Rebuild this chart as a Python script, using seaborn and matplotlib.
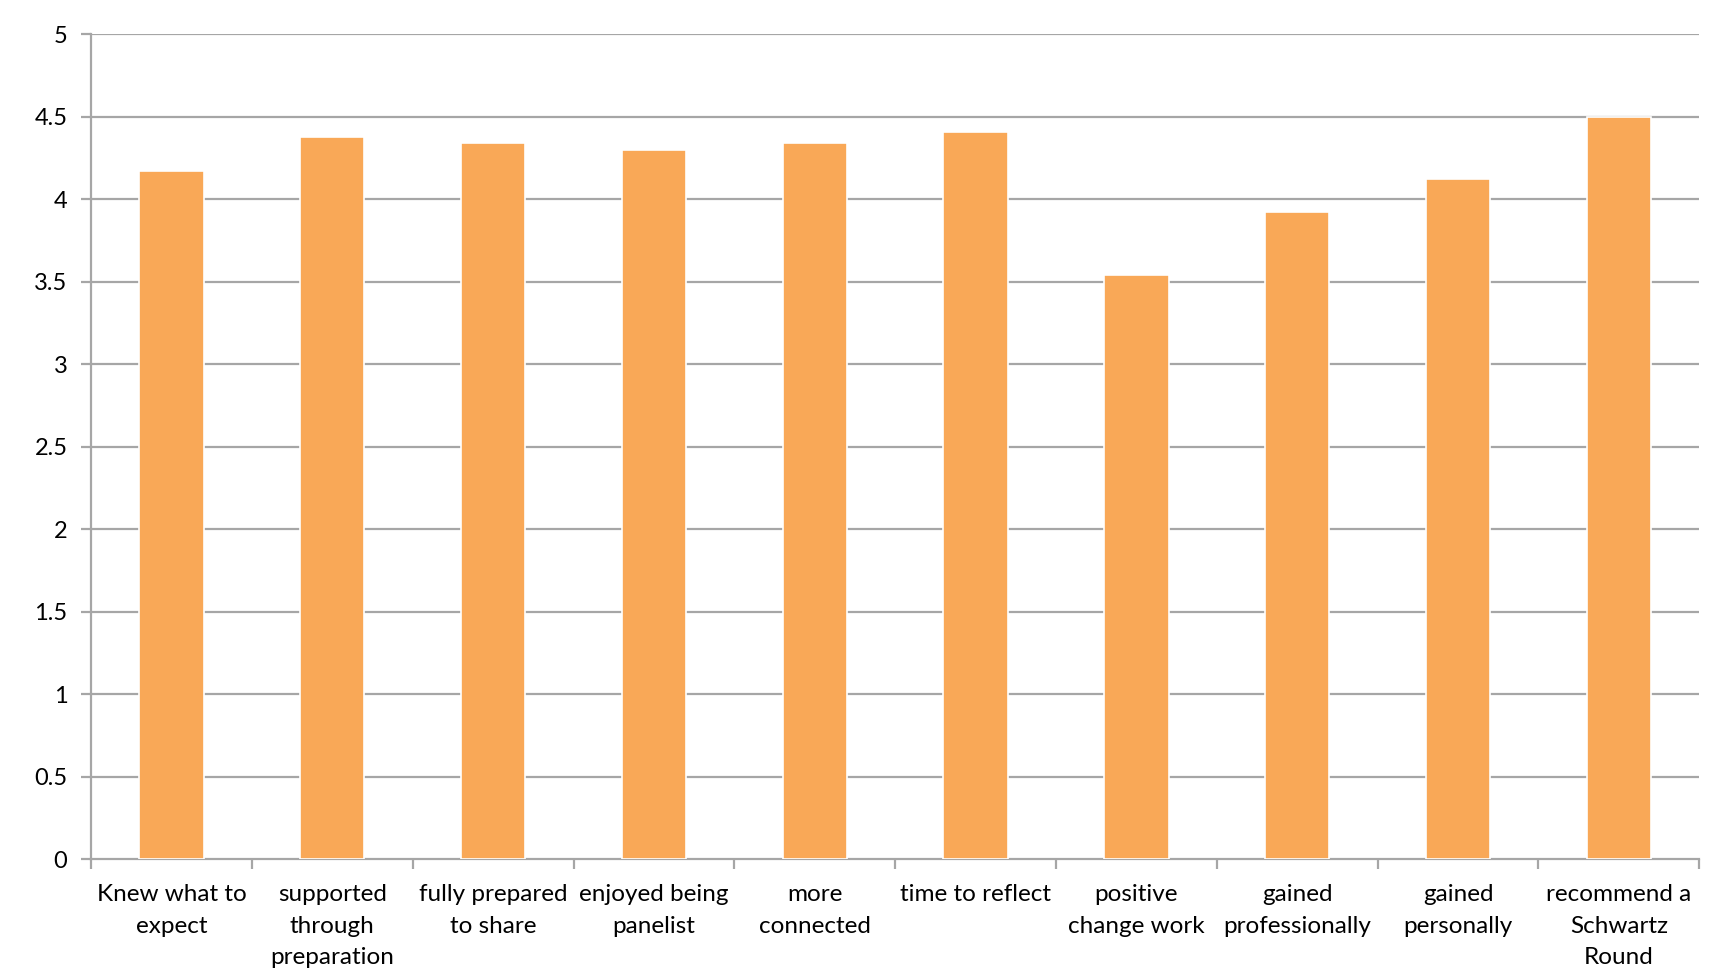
import matplotlib
matplotlib.use("Agg")
import matplotlib.pyplot as plt
from matplotlib.ticker import FixedLocator
import seaborn as sns
import pandas as pd

categories = ["Knew what to\nexpect", "supported\nthrough\npreparation", "fully prepared\nto share",
              "enjoyed being\npanelist", "more\nconnected", "time to reflect", "positive\nchange work",
              "gained\nprofessionally", "gained\npersonally", "recommend a\nSchwartz\nRound"]
values = [4.17, 4.38, 4.34, 4.30, 4.34, 4.41, 3.54, 3.92, 4.12, 4.50]
yticks = [0, 0.5, 1, 1.5, 2, 2.5, 3, 3.5, 4, 4.5, 5]
ytick_labels = ["0", "0.5", "1", "1.5", "2", "2.5", "3", "3.5", "4", "4.5", "5"]

sns.set_style("white")
plt.rcParams['font.family'] = ['Lato', 'DejaVu Sans']

df = pd.DataFrame({"cat": categories, "val": values})

fig = plt.figure(figsize=(17.34, 9.69), dpi=100)
ax = fig.add_axes([0.0525, 0.1135, 0.9275, 0.8511])

grid_c = "#A6A6A6"
for y in yticks[1:]:
    ax.axhline(y, color=grid_c, lw=1.6, zorder=0)

sns.barplot(data=df, x="cat", y="val", color="#F9A857", saturation=1, width=0.4,
            edgecolor="white", linewidth=1.2, ax=ax, zorder=3)

ax.set_xlim(-0.5, len(categories) - 0.5)
ax.set_ylim(0, 5)
ax.set_yticks(yticks)
ax.set_yticklabels(ytick_labels, fontsize=17, color="#000000")
ax.set_xlabel("")
ax.set_ylabel("")

ax.tick_params(axis="x", which="major", length=0, pad=18, labelsize=17.5, labelcolor="#000000")
ax.xaxis.set_minor_locator(FixedLocator([i - 0.5 for i in range(len(categories) + 1)]))
ax.tick_params(axis="x", which="minor", length=7, width=1.6, color=grid_c, direction="out", bottom=True)
ax.tick_params(axis="y", which="major", length=7, width=1.6, color=grid_c, direction="out", left=True, pad=10)
for lbl in ax.get_xticklabels():
    lbl.set_linespacing(1.62)

for side in ["top", "right"]:
    ax.spines[side].set_visible(False)
for side in ["left", "bottom"]:
    ax.spines[side].set_color(grid_c)
    ax.spines[side].set_linewidth(1.6)

fig.savefig("out.png", dpi=100, facecolor="white")
